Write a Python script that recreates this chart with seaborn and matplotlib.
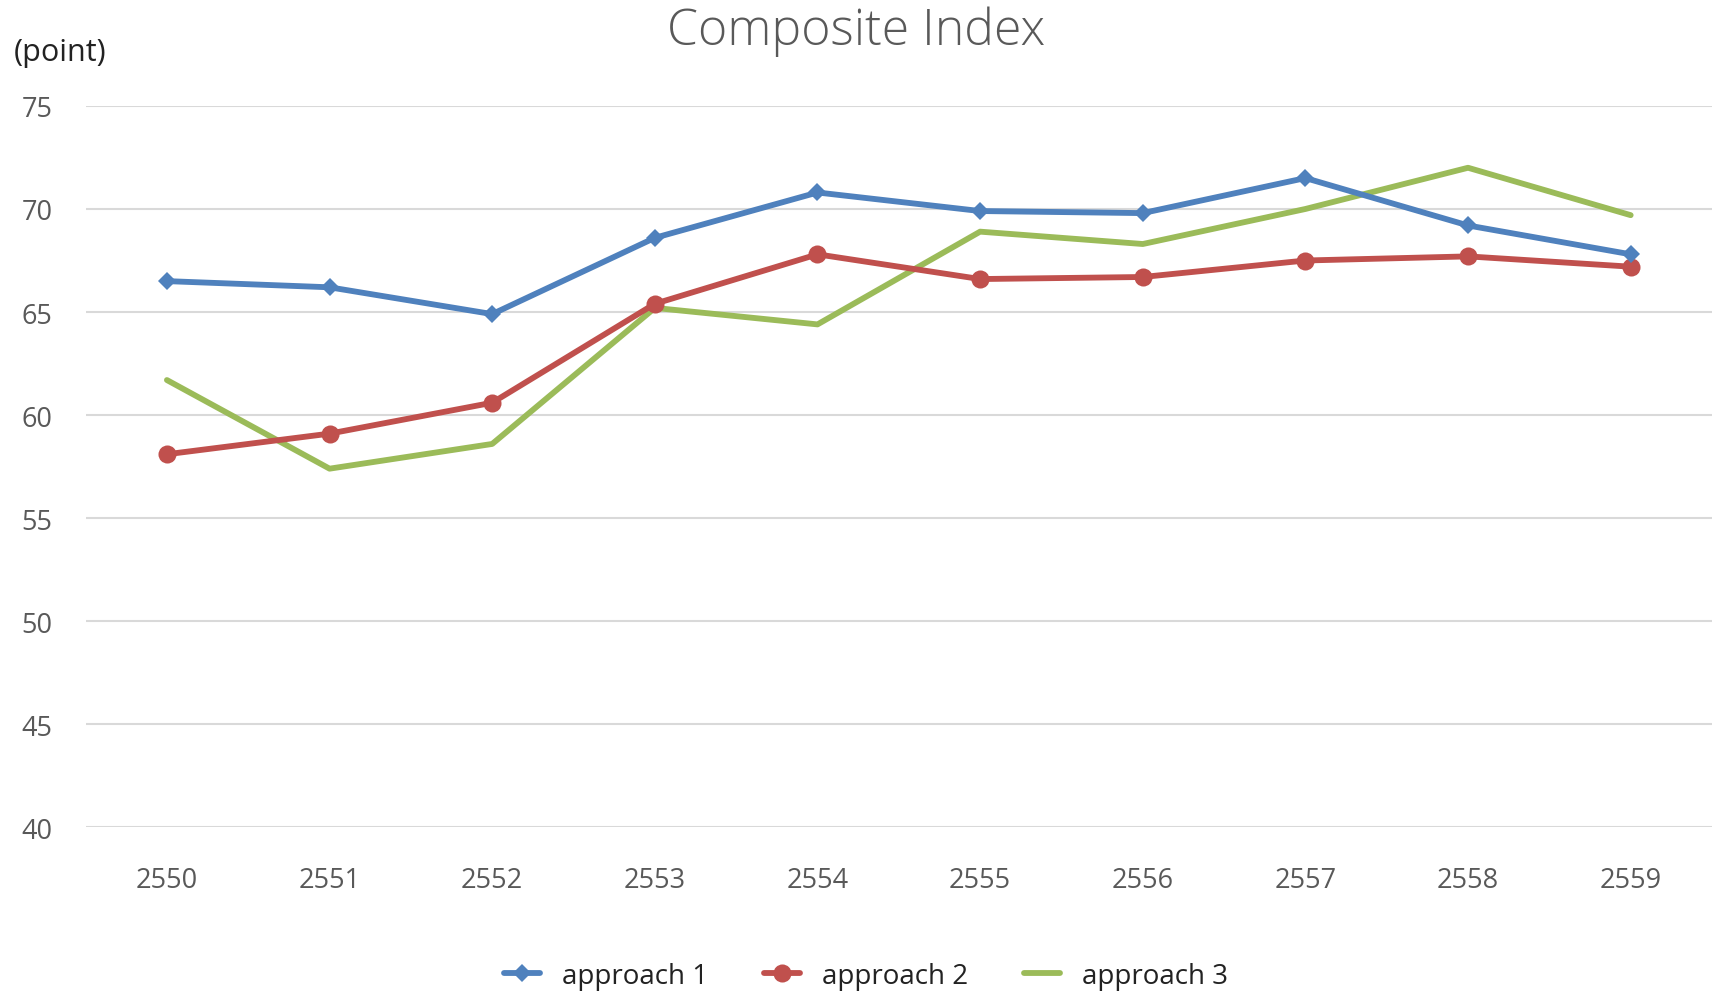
import matplotlib
matplotlib.use("Agg")
import matplotlib.pyplot as plt
import seaborn as sns

# data
years = ["2550", "2551", "2552", "2553", "2554", "2555", "2556", "2557", "2558", "2559"]
approach_1 = [66.5, 66.2, 64.9, 68.6, 70.8, 69.9, 69.8, 71.5, 69.2, 67.8]
approach_2 = [58.1, 59.1, 60.6, 65.4, 67.8, 66.6, 66.7, 67.5, 67.7, 67.2]
approach_3 = [61.7, 57.4, 58.6, 65.2, 64.4, 68.9, 68.3, 70.0, 72.0, 69.7]
series_names = ["approach 1", "approach 2", "approach 3"]
colors = ["#4F81BD", "#C0504D", "#9BBB59"]

sns.set_theme(style="white")
plt.rcParams['font.family'] = ['Open Sans', 'DejaVu Sans']

fig = plt.figure(figsize=(17.12, 10.04), dpi=100)
ax = fig.add_axes([0.05, 0.175, 0.95, 0.7185])

x = list(range(len(years)))
sns.lineplot(x=x, y=approach_1, ax=ax, color=colors[0], lw=4.2, marker="D",
             ms=9.5, markeredgewidth=0, label=series_names[0], zorder=4)
sns.lineplot(x=x, y=approach_2, ax=ax, color=colors[1], lw=4.2, marker="o",
             ms=13, markeredgewidth=0, label=series_names[1], zorder=3)
sns.lineplot(x=x, y=approach_3, ax=ax, color=colors[2], lw=4.2,
             label=series_names[2], zorder=2)

ax.set_xlim(-0.5, len(years) - 0.5)
ax.set_ylim(40, 75)
ax.set_yticks(range(40, 76, 5))
ax.set_xticks(x)
ax.set_xticklabels(years)
ax.grid(axis="y", color="#D9D9D9", lw=1.5)
ax.set_axisbelow(True)
for s in ax.spines.values():
    s.set_visible(False)
ax.tick_params(axis="both", length=0, labelsize=19.5, labelcolor="#595959")
ax.tick_params(axis="x", pad=28)
ax.tick_params(axis="y", pad=24)

fig.text(0.5, 0.968, "Composite Index", ha="center", va="center",
         fontsize=36, color="#595959", fontweight="light")
fig.text(0.008, 0.947, "(point)", ha="left", va="center", fontsize=22,
         color="#222222")

ax.legend(loc="lower center", bbox_to_anchor=(0.48, -0.26), ncol=3,
          frameon=False, fontsize=20, handlelength=1.3, columnspacing=2.0,
          labelcolor="#222222")

fig.savefig("out.png", dpi=100)
